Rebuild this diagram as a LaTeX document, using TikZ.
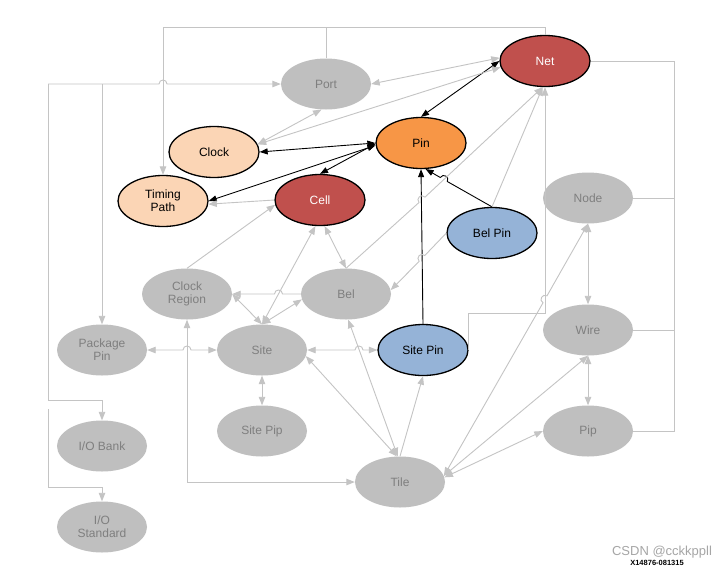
\documentclass[tikz,border=0pt]{standalone}
\usepackage{fontspec}
\setmainfont{Liberation Sans}
\usetikzlibrary{arrows.meta,shapes.geometric}
\definecolor{gfill}{HTML}{BFBFBF}
\definecolor{gtext}{HTML}{7F7F7F}
\definecolor{gline}{HTML}{C4C4C4}
\definecolor{cpeach}{HTML}{FBD5B5}
\definecolor{cred}{HTML}{C0504D}
\definecolor{corange}{HTML}{F79646}
\definecolor{cblue}{HTML}{95B3D7}
\definecolor{wmark}{HTML}{A6A6A6}
\begin{document}
\begin{tikzpicture}[x=1pt,y=-1pt,
  base/.style={ellipse, minimum width=90pt, minimum height=51pt, inner sep=0pt, align=center, font=\fontsize{12}{13}\selectfont},
  gnode/.style={base, fill=gfill, text=gtext},
  cnode/.style={base, draw=black, line width=1.3pt},
  gl/.style={draw=gline, line width=0.9pt},
  ga/.style={gl, -{Triangle[length=8.5pt,width=6.5pt]}},
  gaa/.style={gl, {Triangle[length=8.5pt,width=6.5pt]}-{Triangle[length=8.5pt,width=6.5pt]}},
  bl/.style={draw=black, line width=0.9pt},
  ba/.style={bl, -{Triangle[length=8pt,width=6pt]}},
  baa/.style={bl, {Triangle[length=8pt,width=6pt]}-{Triangle[length=8pt,width=6pt]}},
]
\fill[white] (0,0) rectangle (727,568);
\useasboundingbox (0,0) rectangle (727,568);

% nodes
\node[gnode] (port) at (326,84) {Port};
\node[cnode, fill=cred, text=white] (net) at (545,61) {Net};
\node[cnode, fill=corange] (pin) at (421,143) {Pin};
\node[cnode, fill=cpeach] (clock) at (214,152) {Clock};
\node[cnode, fill=cpeach] (tp) at (163,201) {Timing\\Path};
\node[cnode, fill=cred, text=white] (cell) at (320,200) {Cell};
\node[cnode, fill=cblue] (belpin) at (492,233) {Bel Pin};
\node[gnode] (nd) at (588,198) {Node};
\node[gnode] (cr) at (187,294) {Clock\\Region};
\node[gnode] (bel) at (346,294) {Bel};
\node[gnode] (pkg) at (102,350) {Package\\Pin};
\node[gnode] (site) at (262,350) {Site};
\node[cnode, fill=cblue] (sitepin) at (423,350) {Site Pin};
\node[gnode] (wire) at (588,330) {Wire};
\node[gnode] (sitepip) at (262,431) {Site Pip};
\node[gnode] (iob) at (102,446) {I/O Bank};
\node[gnode] (pip) at (588,431) {Pip};
\node[gnode] (tile) at (400,482) {Tile};
\node[gnode] (iostd) at (102,527) {I/O\\Standard};

% free ends
\coordinate (lt) at (48,84);
\coordinate (lb) at (48,409);

% black connectors
\draw[baa] (net.west) -- (pin.north);
\draw[baa] (pin.west) -- (clock.east);
\draw[baa] (pin.181) -- (cell.north);
\draw[baa] (pin.183) -- (tp.east);
\draw[ba] (sitepin.north) -- (pin.south);
\draw[ba] (belpin.north) -- (447.3,181.5) .. controls (450.0,176.9) and (443.0,172.9) .. (440.3,177.5) -- (pin.-80);

% gray connectors
\draw[ga] (net.north) -- (545,27) -- (163,27) -- (tp.north);
\draw[gl] (port.north) -- (326,27);
\draw[ga] (lt) -- (159,84) .. controls (159,78.7) and (167,78.7) .. (167,84) -- (port.west);
\draw[ga] (102,84) -- (pkg.north);
\draw[ga] (lt) -- (48,400) -- (102,400) -- (iob.north);
\draw[ga] (lb) -- (48,487) -- (102,487) -- (iostd.north);
\draw[gaa] (port.east) -- (net.176);
\draw[gaa] (clock.10) -- (port.-100);
\draw[gaa] (clock.10) -- (net.188);
\draw[ga] (cell.west) -- (tp.-4);
\draw[ga] (cr.north) -- (cell.186);
\draw[gaa] (cell.-80) -- (bel.north);
\draw[gaa] (cell.-100) -- (site.north);
\draw[ga] (bel.north) -- (419.0,202.5) .. controls (415.4,198.6) and (421.4,193.2) .. (425.0,197.1) -- (net.-95);
\draw[ga] (belpin.west) -- (424.8,255.5) .. controls (421.0,251.8) and (415.4,257.6) .. (419.2,261.3) -- (bel.5);
\draw[ga] (belpin.north) -- (net.-95);
\draw[ga] (sitepin.east) |- (545,313) -- (net.south);
\draw[gl] (net.east) -| (674,431) -- (pip.east);
\draw[gl] (nd.east) -- (674,198);
\draw[gl] (wire.east) -- (674,330);
\draw[gaa] (nd.south) -- (wire.north);
\draw[gaa] (wire.south) -- (pip.north);
\draw[gaa] (tile.8) -- (543.0,302.8) .. controls (538.4,300.2) and (542.4,293.2) .. (547.0,295.8) -- (nd.south);
\draw[gaa] (tile.8) -- (wire.south);
\draw[gaa] (tile.6) -- (pip.west);
\draw[gaa] (site.north) -- (cr.east);
\draw[gaa] (site.north) -- (bel.187);
\draw[ga] (bel.west) -- (282.5,294) .. controls (282.5,288.7) and (274.5,288.7) .. (274.5,294) -- (cr.east);
\draw[gaa] (pkg.east) -- (183,350) .. controls (183,344.7) and (191,344.7) .. (191,350) -- (site.west);
\draw[gaa] (tile.west) -- (187,482) -- (cr.south);
\draw[gaa] (site.east) -- (355,350) .. controls (355,344.7) and (363,344.7) .. (363,350) -- (sitepin.west);
\draw[gaa] (sitepip.north) -- (site.south);
\draw[gaa] (site.-8) -- (tile.97);
\draw[gaa] (bel.-85) -- (tile.95);
\draw[ga] (tile.north) -- (sitepin.south);

% watermark texts
\node[font=\fontsize{13}{13}\selectfont, text=wmark, anchor=base] (wm1) at (662,555) {CSDN @cckkppll};
\node[font=\bfseries\fontsize{7.5}{8}\selectfont, anchor=base] (wm2) at (657,565) {X14876-081315};
\end{tikzpicture}
\end{document}
